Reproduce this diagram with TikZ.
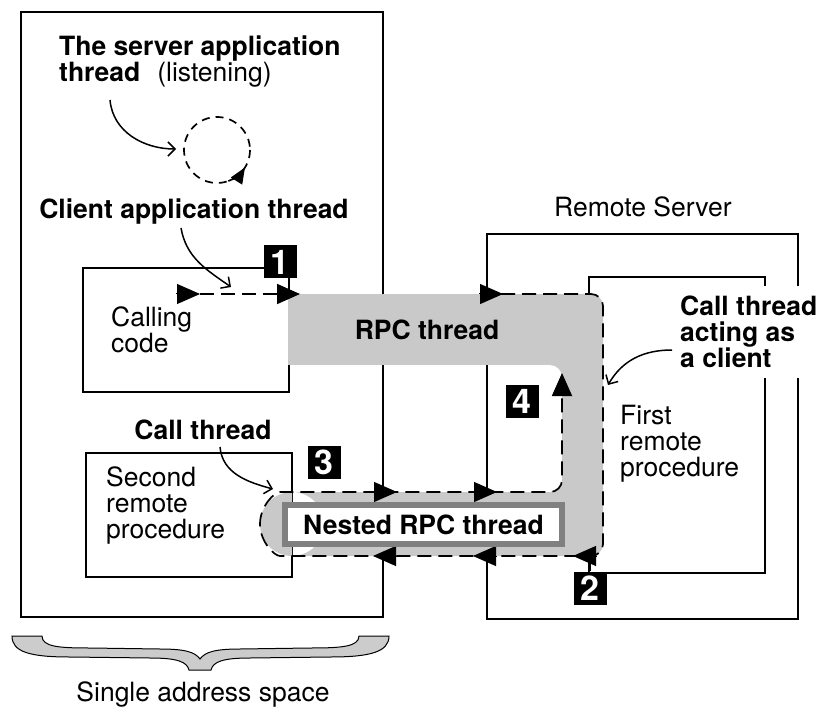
\documentclass[tikz,border=0pt]{standalone}
\usepackage{fontspec}
\setmainfont{TeX Gyre Heros}
\usetikzlibrary{arrows.meta}

\tikzset{
  boxline/.style={line width=1.7pt},
  band/.style={fill=black!21},
  thr/.style={line width=1.7pt,dash pattern=on 14pt off 7pt},
  ahead/.style={line width=1pt,-{Triangle[length=23pt,width=20pt]}},
  remark/.style={line width=1.5pt,-{Straight Barb[length=7pt,width=14pt]}},
  badge/.style={fill=black,text=white,minimum size=33pt,inner sep=0pt,font=\fontsize{34}{34}\selectfont\bfseries},
  lbl/.style={inner sep=0pt,align=left,font=\fontsize{26.5}{26}\selectfont},
  blbl/.style={lbl,font=\fontsize{26.5}{26}\selectfont\bfseries},
}

\begin{document}
\begin{tikzpicture}[x=1pt,y=1pt,yscale=-1]
\useasboundingbox (0,0) rectangle (821,708);
% boxes
\draw[boxline] (21,12) rectangle (383,617);
\draw[boxline] (83,268) rectangle (289,392);
\draw[boxline] (86,453) rectangle (292,577);
\draw[boxline] (487,234) rectangle (798,619);
\draw[boxline] (589,277) rectangle (765,573);
% the grey thread band
\fill[band] (288,294) rectangle (575,365);
\fill[band] (292,492) rectangle (575,556) (292,524) circle[radius=32pt];
\fill[band,rounded corners=12pt] (562,294) rectangle (603,556);
\fill[band] (562,365) -- (562,377) arc(0:-90:12pt) -- cycle;
\fill[band] (562,492) -- (562,480) arc(0:90:12pt) -- cycle;
% dashed thread path
\draw[thr,ahead,line width=1.7pt,rounded corners=12pt] (480,294) -- (603,294) -- (603,556) -- (292,556) arc(90:270:32pt) -- (562,492) -- (562,373);
\draw[thr,ahead,line width=1.7pt] (200,294) -- (300,294);
\draw[ahead] (176,294) -- (200,294);
\draw[ahead] (479,294) -- (503,294);
\foreach \a in {373,473} \draw[ahead] (\a,492) -- ++(24,0);
\foreach \a in {397,497,597} \draw[ahead] (\a,556) -- ++(-24,0);
\node[draw=black!50,line width=6pt,fill=white,minimum width=277pt,minimum height=39pt,inner sep=0pt,font=\fontsize{26.5}{26}\selectfont\bfseries] (nested) at (423.5,524.5) {Nested RPC thread};
% listening thread
\draw[boxline,dash pattern=on 8pt off 6pt] (217,150) circle[radius=33pt];
\draw[boxline,dash pattern=on 8pt off 6pt,-{Triangle[length=16pt,width=13pt]}] (217,150) ++(70:33pt) arc(70:32:33pt);
% step numbers
\node[badge] (b1) at (280,262) {1};
\node[badge] (b2) at (590,588) {2};
\node[badge] (b3) at (324,462) {3};
\node[badge] (b4) at (522,401) {4};
\draw[boxline] (b2.north) -- (590,556);
% labels
\node[blbl,anchor=west] (srv) at (59,62) {The server application\\thread\hspace{17pt}{\mdseries(listening)}};
\node[blbl] (cat) at (194,212) {Client application thread};
\node[lbl,anchor=west] (cc) at (111,330) {Calling\\code};
\node[blbl] (rpc) at (427,330) {RPC thread};
\node[blbl] (ct) at (203,430) {Call thread};
\node[lbl,anchor=west] (srp) at (106,505) {Second\\remote\\procedure};
\node[lbl] (rs) at (643,207) {Remote Server};
\node[blbl,anchor=west,fill=white,inner xsep=5pt,inner ysep=10pt] (cac) at (675,332) {Call thread\\acting as\\a client};
\node[lbl,anchor=west] (frp) at (620,444) {First\\remote\\procedure};
% pointers
\coordinate (srvtail) at (110,100);
\coordinate (srvhead) at (176,149);
\coordinate (cattail) at (181,228);
\coordinate (cathead) at (231,287);
\coordinate (cttail) at (220,447);
\coordinate (cthead) at (273,489);
\coordinate (cactail) at (672,350);
\coordinate (cachead) at (608,385);
\draw[remark] (srvtail) to[out=85,in=180] (srvhead);
\draw[remark] (cattail) to[out=80,in=215] (cathead);
\draw[remark] (cttail) to[out=85,in=195] (cthead);
\draw[remark] (cactail) to[out=180,in=-60] (cachead);
% address space brace
\filldraw[fill=black!20,line width=1pt] (12,636) -- (42,636) .. controls (42,647) and (60,648) .. (90,648) -- (160,649) .. controls (185,649) and (195,652) .. (200,659) .. controls (205,652) and (215,649) .. (240,649) -- (310,648) .. controls (340,648) and (359,647) .. (359,636) -- (389,636) .. controls (389,652) and (370,657) .. (330,657) -- (250,658) .. controls (222,658) and (213,662) .. (211,670) -- (189,670) .. controls (187,662) and (178,658) .. (150,658) -- (70,657) .. controls (30,657) and (12,652) .. cycle;
\node[lbl] (sas) at (203,694) {Single address space};
\end{tikzpicture}
\end{document}
